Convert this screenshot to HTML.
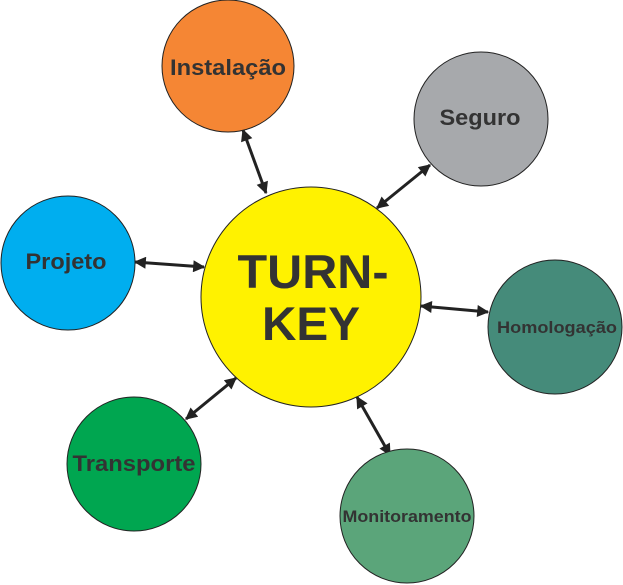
<!DOCTYPE html>
<html><head><meta charset="utf-8"><style>body{margin:0;background:#fff}svg{display:block}text{font-family:"Liberation Sans",sans-serif;font-weight:bold;fill:#333;text-anchor:middle}</style></head><body>
<svg width="623" height="585" viewBox="0 0 623 585" xmlns="http://www.w3.org/2000/svg">
<defs>
<marker id="b" viewBox="0 0 10 10" markerWidth="14" markerHeight="12" refX="9" refY="5" orient="auto-start-reverse" markerUnits="userSpaceOnUse"><path d="M0,0 L10,5 L0,10 Z" fill="#222"/></marker></defs>
<g stroke="#222" stroke-width="3" marker-start="url(#b)" marker-end="url(#b)">
<line x1="243" y1="130" x2="266" y2="193"/>
<line x1="430" y1="165" x2="377" y2="208"/>
<line x1="135" y1="262" x2="204" y2="267"/>
<line x1="421" y1="306" x2="488" y2="312"/>
<line x1="186" y1="419" x2="236" y2="378"/>
<line x1="357" y1="397" x2="390" y2="455"/>
</g>
<g stroke="#222" stroke-width="1">
<circle cx="311" cy="297" r="110" fill="#FFF200"/>
<circle cx="228" cy="66" r="66" fill="#F58634"/>
<circle cx="481" cy="119" r="67" fill="#A7A9AC"/>
<circle cx="68" cy="263" r="67" fill="#00AEEF"/>
<circle cx="555" cy="327" r="67" fill="#458B7A"/>
<circle cx="134" cy="464" r="67" fill="#00A650"/>
<circle cx="407" cy="516" r="67" fill="#5BA57A"/>
</g>
<text x="313" y="288" font-size="47" textLength="151" lengthAdjust="spacingAndGlyphs">TURN-</text>
<text x="311" y="340" font-size="47" textLength="98" lengthAdjust="spacingAndGlyphs">KEY</text>
<text x="228" y="75" font-size="22" textLength="116" lengthAdjust="spacingAndGlyphs">Instalação</text>
<text x="480" y="125" font-size="22" textLength="81" lengthAdjust="spacingAndGlyphs">Seguro</text>
<text x="66" y="269" font-size="22" textLength="81" lengthAdjust="spacingAndGlyphs">Projeto</text>
<text x="557" y="333" font-size="17" textLength="120" lengthAdjust="spacingAndGlyphs">Homologação</text>
<text x="134" y="471" font-size="22" textLength="123" lengthAdjust="spacingAndGlyphs">Transporte</text>
<text x="407" y="522" font-size="17" textLength="129" lengthAdjust="spacingAndGlyphs">Monitoramento</text>
</svg>
</body></html>
